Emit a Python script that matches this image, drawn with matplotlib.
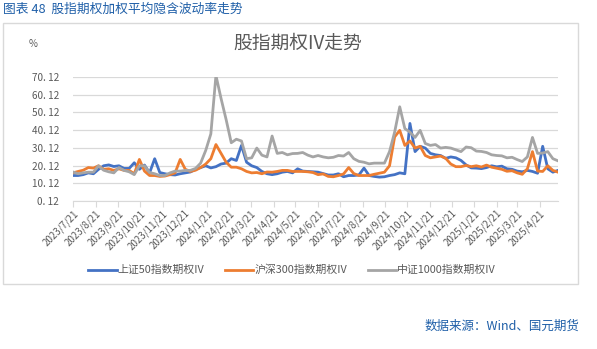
import matplotlib
matplotlib.use("Agg")
import matplotlib.pyplot as plt
from matplotlib.patches import Rectangle
import pandas as pd

plt.rcParams['font.family'] = ['Noto Sans CJK SC', 'DejaVu Sans']

# weekly samples, starting 2023-07-21
dates = pd.date_range("2023-07-21", periods=96, freq="7D")

sz50 = [14.5, 14.5, 15.0, 16.0, 15.5, 18.0, 20.0, 20.5, 19.6, 20.0,
        18.5, 18.5, 21.7, 18.0, 20.4, 16.0, 24.0, 16.2, 15.5, 15.0,
        14.8, 15.5, 16.0, 16.5, 18.0, 19.0, 20.0, 18.8, 19.5, 21.0,
        21.5, 24.0, 23.0, 31.5, 22.0, 20.0, 19.0, 16.8, 15.5, 15.0,
        15.5, 16.4, 16.8, 16.0, 18.3, 17.0, 16.8, 16.6, 16.4, 15.6,
        14.8, 14.8, 15.5, 13.8, 14.5, 14.5, 14.8, 18.7, 14.5, 14.0,
        13.6, 13.8, 14.5, 15.0, 16.0, 15.5, 43.9, 28.0, 31.0, 30.0,
        27.0, 26.2, 25.8, 24.2, 25.0, 24.5, 23.0, 20.5, 18.8, 18.7,
        18.4, 19.0, 20.0, 19.4, 19.8, 18.3, 18.0, 17.0, 16.6, 17.4,
        16.8, 15.8, 31.0, 18.3, 16.4, 17.4]

hs300 = [16.0, 16.8, 17.5, 19.0, 18.7, 20.0, 18.0, 18.3, 17.4, 18.3,
         17.4, 17.4, 15.5, 23.6, 17.0, 14.5, 14.5, 14.0, 14.2, 15.0,
         16.0, 23.6, 18.0, 16.8, 17.5, 19.0, 21.0, 24.0, 32.0, 27.0,
         22.0, 19.2, 19.2, 18.3, 16.8, 16.0, 16.2, 15.5, 16.5, 16.4,
         16.8, 17.4, 17.4, 16.8, 16.8, 16.8, 16.6, 16.2, 15.0, 15.4,
         14.0, 13.8, 14.5, 15.4, 19.0, 15.6, 14.5, 14.5, 14.5, 15.2,
         15.8, 16.4, 20.0, 36.3, 40.0, 31.5, 34.0, 30.0, 31.0, 25.8,
         24.5, 25.0, 25.5, 24.2, 21.0, 19.5, 19.5, 20.2, 19.5, 20.0,
         19.3, 20.4, 19.2, 18.6, 18.0, 16.9, 17.2, 16.0, 15.2, 18.3,
         28.0, 17.0, 16.8, 20.0, 17.4, 16.4]

zz1000 = [16.5, 15.5, 16.0, 16.4, 16.4, 20.0, 17.5, 16.6, 16.0, 19.0,
          17.4, 16.6, 15.0, 20.0, 20.0, 16.2, 15.5, 14.5, 14.5, 16.0,
          17.0, 17.0, 17.4, 17.4, 18.5, 21.5, 28.7, 38.0, 71.0, 58.0,
          46.0, 33.0, 35.0, 34.0, 24.0, 24.5, 30.0, 26.0, 25.0, 36.8,
          27.0, 27.5, 26.2, 26.9, 27.0, 27.5, 26.0, 25.0, 25.8, 25.0,
          24.5, 24.8, 25.8, 25.5, 27.5, 24.0, 22.5, 22.0, 21.1, 21.5,
          21.5, 21.5, 28.0, 39.0, 53.3, 41.0, 39.0, 36.0, 40.0, 32.6,
          31.5, 32.0, 30.0, 30.4, 30.0, 29.0, 28.0, 30.6, 30.2, 28.3,
          28.1, 27.5, 26.2, 25.8, 25.6, 24.5, 24.8, 23.5, 22.4, 25.0,
          36.0, 27.0, 27.2, 28.0, 24.0, 22.8]

series_names = ["上证50指数期权IV", "沪深300指数期权IV", "中证1000指数期权IV"]
colors = ["#4472C4", "#ED7D31", "#A5A5A5"]
yticks = [0.12, 10.12, 20.12, 30.12, 40.12, 50.12, 60.12, 70.12]
xticks = pd.date_range("2023-07-01", "2025-04-01", freq="MS") + pd.Timedelta(days=20)

fig = plt.figure(figsize=(5.97, 3.49), dpi=100)
ax = fig.add_axes([73 / 597, 1 - 201 / 349, 485 / 597, 124 / 349])

for vals, name, c in zip([sz50, hs300, zz1000], series_names, colors):
    ax.plot(dates, vals, color=c, lw=2.0, label=name, solid_joinstyle="round")

ax.set_ylim(0.12, 70.12)
ax.set_xlim(dates[0], dates[-1])
ax.set_yticks(yticks)
ax.set_yticklabels([f"{v:.2f}".replace(".", ". ") for v in yticks],
                   fontsize=7.2, color="#595959")
ax.set_xticks(xticks)
ax.set_xticklabels([f"{d.year}/{d.month}/{d.day}" for d in xticks],
                   rotation=45, ha="right", rotation_mode="anchor",
                   fontsize=7, color="#595959")
ax.grid(axis="y", color="#D9D9D9", lw=0.9)
ax.set_axisbelow(True)
for s in ["top", "right", "left"]:
    ax.spines[s].set_visible(False)
ax.spines["bottom"].set_color("#D9D9D9")
ax.tick_params(axis="y", length=0, pad=10)
ax.tick_params(axis="x", length=4, color="#D9D9D9", pad=1)

fig.patches.append(Rectangle((3 / 597, 1 - 284 / 349), 575 / 597, 261 / 349,
                             transform=fig.transFigure, fill=False,
                             edgecolor="#D9D9D9", lw=1))

fig.text(3 / 597, 1 - 9 / 349, "图表 48  股指期权加权平均隐含波动率走势",
         fontsize=9.2, color="#1F5FA8", va="center", ha="left")
fig.text(298 / 597, 1 - 43 / 349, "股指期权IV走势", fontsize=13.5,
         color="#595959", va="center", ha="center")
fig.text(33 / 597, 1 - 44 / 349, "%", fontsize=7, color="#595959",
         va="center", ha="center")
fig.text(579 / 597, 1 - 326 / 349, "数据来源：Wind、国元期货", fontsize=9,
         color="#1F5FA8", va="center", ha="right")

fig.legend(loc="center", bbox_to_anchor=(292 / 597, 1 - 270 / 349), ncol=3,
           frameon=False, fontsize=7.8, handlelength=2.6, columnspacing=1.9,
           handletextpad=0.1, labelcolor="#595959")

fig.savefig("out.png", dpi=100)
